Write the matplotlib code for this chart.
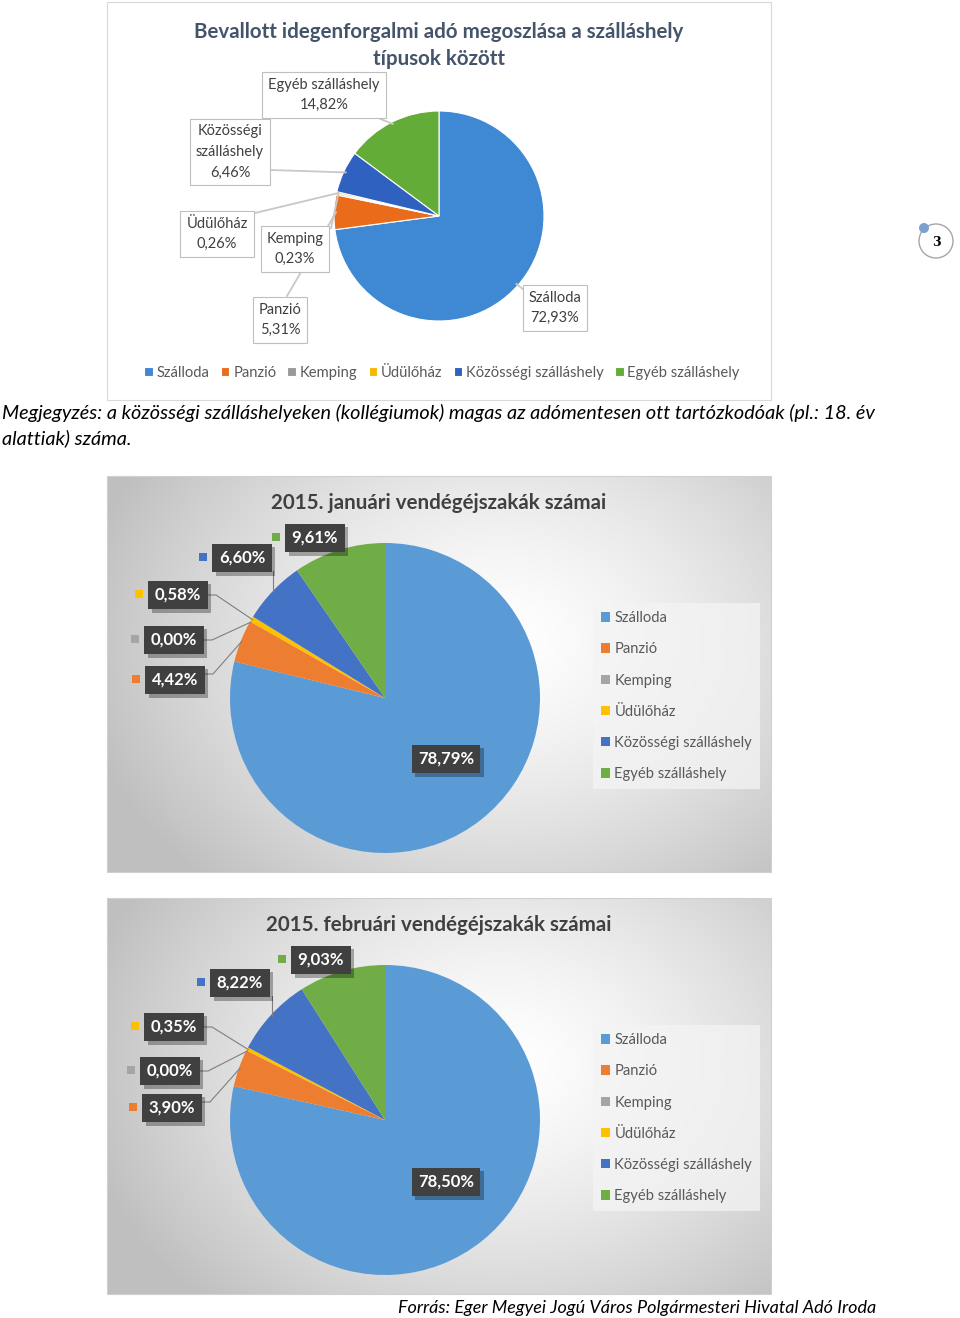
import numpy as np
import matplotlib
matplotlib.use("Agg")
import matplotlib.pyplot as plt
import matplotlib.patheffects as pe
from matplotlib.patches import Rectangle, Circle

plt.rcParams["font.family"] = ["Lato", "DejaVu Sans"]

W, H = 960, 1318

# --- data ---
categories = ["Szálloda", "Panzió", "Kemping", "Üdülőház",
              "Közösségi szálláshely", "Egyéb szálláshely"]
tax_share = [72.93, 5.31, 0.23, 0.26, 6.46, 14.82]
jan_nights = [78.79, 4.42, 0.00, 0.58, 6.60, 9.61]
feb_nights = [78.50, 3.90, 0.00, 0.35, 8.22, 9.03]

title_tax = "Bevallott idegenforgalmi adó megoszlása a szálláshely\ntípusok között"
title_jan = "2015. januári vendégéjszakák számai"
title_feb = "2015. februári vendégéjszakák számai"
tax_label_names = ["Szálloda", "Panzió", "Kemping", "Üdülőház",
                   "Közösségi\nszálláshely", "Egyéb szálláshely"]
note_lines = ["Megjegyzés: a közösségi szálláshelyeken (kollégiumok) magas az "
              "adómentesen ott tartózkodóak (pl.: 18. év",
              "alattiak) száma."]
source = "Forrás: Eger Megyei Jogú Város Polgármesteri Hivatal Adó Iroda"

COLORS = ["#5B9BD5", "#ED7D31", "#A5A5A5", "#FFC000", "#4472C4", "#70AD47"]
COLORS_TAX = ["#3f88d4", "#ea6c1a", "#9a9a9a", "#f5b800", "#2f62c0", "#64ac38"]

# --- layout (pixel positions of labels) ---
tax_lab_pos = [(555, 308), (280, 320), (295, 249), (217, 234), (230, 152), (324, 95)]
tax_lab_anchor = [(524, 290), (287, 296), (331, 228), (255, 213), (271, 170), (378, 118)]
jan_lab_pos = [(446, 759), (175, 680), (174, 640), (178, 595), (242, 558), (315, 538)]
feb_lab_pos = [(446, 1182), (172, 1108), (170, 1071), (174, 1027), (240, 983), (321, 960)]


def fmt(v):
    return f"{v:.2f}".replace(".", ",") + "%"


def edge_point(values, i, cx, cy, r):
    total = sum(values)
    mid = -90 + 360 * (sum(values[:i]) + values[i] / 2) / total
    t = np.deg2rad(mid)
    return cx + r * np.cos(t), cy + r * np.sin(t)


fig = plt.figure(figsize=(W / 100, H / 100), dpi=100)
ax = fig.add_axes([0, 0, 1, 1])

# ---------------- chart 1 ----------------
ax.add_patch(Rectangle((107, 2), 664, 398, fc="white", ec="#d9d9d9", lw=0.8, zorder=0))
ax.text(439, 45.5, title_tax, ha="center", va="center", fontsize=14.8,
        fontweight="bold", color="#44546A", linespacing=1.4)
cx1, cy1, r1 = 439, 216, 105
w1, _ = ax.pie(tax_share, colors=COLORS_TAX, startangle=-90, counterclock=True,
               center=(cx1, cy1), radius=r1, frame=True,
               wedgeprops=dict(edgecolor="white", linewidth=0.8))
for i, v in enumerate(tax_share):
    px, py = edge_point(tax_share, i, cx1, cy1, r1 - 2)
    ax.plot([tax_lab_anchor[i][0], px], [tax_lab_anchor[i][1], py],
            color="#c8c8c8", lw=1.3, zorder=3)
    ax.text(*tax_lab_pos[i], f"{tax_label_names[i]}\n{fmt(v)}", ha="center",
            va="center", fontsize=10.5, color="#404040", linespacing=1.6, zorder=4,
            bbox=dict(boxstyle="square,pad=0.4", fc="white", ec="#bfbfbf", lw=0.8))
fig.legend(w1, categories, loc="center", bbox_to_anchor=(442 / W, 1 - 373 / H),
           ncol=6, frameon=False, fontsize=10.6, handlelength=0.6, handleheight=0.6,
           handletextpad=0.25, columnspacing=0.75, labelcolor="#595959")

# note text
ax.text(2, 413, note_lines[0], ha="left", va="center", fontsize=14.3, style="italic")
ax.text(2, 438, note_lines[1], ha="left", va="center", fontsize=14.3, style="italic")

# page number badge
ax.add_patch(Circle((936, 241), 17, fill=False, ec="#a6a6a6", lw=1))
ax.add_patch(Circle((924, 228), 5, fc="#7ba0cf", ec="none"))
ax.text(936, 242, "3", ha="center", va="center", fontsize=9, fontweight="bold",
        family="DejaVu Serif")


# ---------------- charts 2 and 3 ----------------
def gradient_box(top):
    x0, x1, y0, y1 = 107, 771, top, top + 396
    xx, yy = np.meshgrid(np.linspace(x0, x1, 300), np.linspace(y0, y1, 200))
    d = np.sqrt(((xx - 500) / 430) ** 2 + ((yy - (top + 165)) / 330) ** 2)
    t = np.clip(d, 0, 1) ** 1.4
    g = 1.0 - 0.25 * t
    img = np.dstack([g, g, g])
    ax.imshow(img, extent=(x0, x1, y1, y0), origin="upper", zorder=0,
              interpolation="bilinear")
    ax.add_patch(Rectangle((x0, y0), x1 - x0, y1 - y0, fill=False,
                           ec="#d0d0d0", lw=0.8, zorder=0.5))


shadow = [pe.SimplePatchShadow(offset=(2.5, -2.5), shadow_rgbFace="black", alpha=0.3),
          pe.Normal()]


def dark_label(x, y, s, size=12):
    t = ax.text(x, y, s, ha="center", va="center", fontsize=size, fontweight="bold",
                color="white", zorder=5,
                bbox=dict(boxstyle="square,pad=0.38", fc="#404040", ec="none"))
    t.get_bbox_patch().set_path_effects(shadow)


def nights_chart(values, title, top, lab_pos):
    gradient_box(top)
    ax.text(439, top + 27, title, ha="center", va="center", fontsize=14.8,
            fontweight="bold", color="#404040")
    cx, cy, r = 385, top + 222, 155
    wedges, _ = ax.pie(values, colors=COLORS, startangle=-90, counterclock=True,
                       center=(cx, cy), radius=r, frame=True,
                       wedgeprops=dict(linewidth=0))
    for i, v in enumerate(values):
        lx, ly = lab_pos[i]
        if i == 0:
            dark_label(lx, ly, fmt(v))
            continue
        px, py = edge_point(values, i, cx, cy, r - 1)
        if i == 4:
            ax.plot([px, px], [ly + 13, py], color="#7f7f7f", lw=0.8, zorder=3)
        elif i in (1, 2, 3):
            yy = ly - 6 if i == 1 else ly
            ax.plot([lx + 28, lx + 38, px], [yy, yy, py],
                    color="#7f7f7f", lw=0.8, zorder=3)
        dark_label(lx, ly, fmt(v))
        ax.add_patch(Rectangle((lx - 43, ly - 5), 8, 8, fc=COLORS[i], ec="none", zorder=4))
    fig.legend(wedges, categories, loc="upper left",
               bbox_to_anchor=(593 / W, 1 - (top + 127) / H),
               frameon=True, fancybox=False, facecolor="#f4f4f4",
               edgecolor="none", framealpha=0.75, fontsize=10.6,
               labelspacing=1.17, handlelength=0.6, handleheight=0.6,
               handletextpad=0.3, borderpad=0.55, borderaxespad=0,
               labelcolor="#595959")


nights_chart(jan_nights, title_jan, 476, jan_lab_pos)
nights_chart(feb_nights, title_feb, 898, feb_lab_pos)

ax.text(876, 1308, source, ha="right", va="center", fontsize=13, style="italic")

ax.set_xlim(0, W)
ax.set_ylim(H, 0)
ax.set_aspect("auto")
ax.axis("off")
fig.savefig("out.png", dpi=100)
